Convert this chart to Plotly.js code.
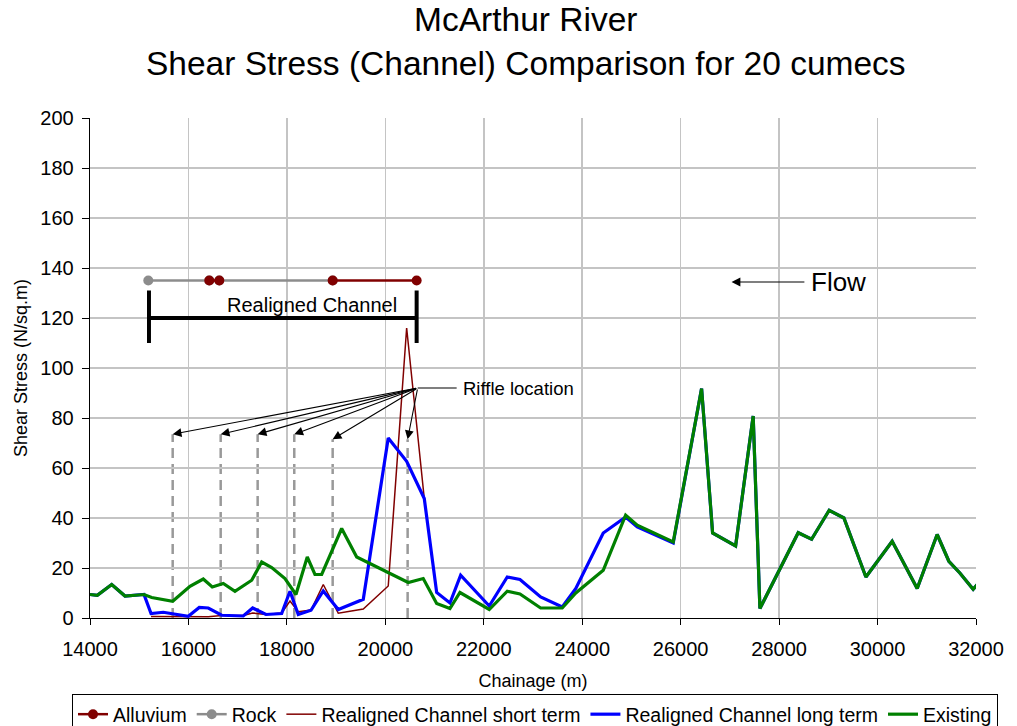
<!DOCTYPE html>
<html>
<head>
<meta charset="utf-8">
<script src="https://cdn.plot.ly/plotly-3.0.1.min.js"></script>
<style>html,body{margin:0;padding:0;background:#fff;}#chart{width:1017px;height:726px;}</style>
</head>
<body>
<div id="chart"></div>
<script>
// ---- Data ----
const existingX = [14000,14148,14441,14711,15097,15253,15680,16031,16301,16484,16708,16945,17285,17488,17691,17961,18184,18414,18570,18707,19113,19418,20466,20770,21043,21313,21516,22111,22477,22735,23155,23594,23870,24427,24882,25118,25849,26425,26649,27116,27473,27610,28388,28660,29017,29316,29763,30297,30805,31211,31449,31672,31942,32099];
const existingY = [9.4,9.1,13.4,8.8,9.4,8.2,6.7,12.7,15.6,12.4,13.8,10.7,15.1,22.4,20.2,15.8,9.4,24.4,17.4,17.4,35.8,24.4,14.2,15.8,5.8,3.8,10.2,3.4,10.7,9.6,4.0,4.0,10.0,19.1,41.1,37.1,30.4,91.8,34.0,28.8,80.8,3.8,34.1,31.5,43.1,40.0,16.4,30.7,11.8,33.4,22.7,18.0,11.5,15.1];

const longX = [14000,14148,14441,14711,15097,15240,15489,15761,15997,16220,16403,16675,17114,17305,17575,17894,18063,18231,18490,18739,19044,19552,20059,20433,20791,21043,21313,21530,22111,22477,22735,23155,23594,23870,24427,24882,25118,25849,26425,26649,27116,27473,27610,28388,28660,29017,29316,29763,30297,30805,31211,31449,31672,31942,32099];
const longY = [9.4,9.1,13.4,8.8,9.4,1.8,2.3,1.5,0.7,4.2,4.0,1.1,0.8,4.0,1.4,1.8,10.7,1.4,3.1,10.8,3.4,7.5,72.0,62.7,47.8,10.2,6.0,17.1,4.8,16.4,15.4,8.4,4.4,11.8,34.0,40.4,36.4,30.0,91.8,34.0,28.8,80.8,3.8,34.1,31.5,43.1,40.0,16.4,30.7,11.8,33.4,22.7,18.0,11.5,15.1];

const shortX = [15240,15489,15761,15997,16220,16403,16675,17114,17305,17575,17894,18063,18231,18490,18739,19044,19552,20059,20433,20791];
const shortY = [0.6,0.6,0.5,0.3,0.5,0.5,1.0,1.0,2.0,1.4,2.0,6.8,2.5,3.2,13.4,1.9,3.6,12.8,116.0,47.8];

const bedLevel = 135;
const rockX = [15184,16423,16627,18930];
const alluviumX = [16423,16627,null,18930,20636];

const riffleX = [15680,16655,17406,18150,18930,20453];
const riffleTop = [73.5,73.5,73.5,73.5,71.5,71.5];
const riffleLabel = {x: 20657, y: 92, lineEnd: 21449, text: 'Riffle location'};

const channelStart = 15198, channelEnd = 20636, channelLevel = 120, channelBarLow = 110, channelBarHigh = 131;
const channelLabel = {x: 18503, y: 125.3, text: 'Realigned Channel'};

const flowArrow = {head: 27034, tail: 28544, y: 134.4, textX: 29216, text: 'Flow'};

const xTicks = [14000,16000,18000,20000,22000,24000,26000,28000,30000,32000];
const yTicks = [0,20,40,60,80,100,120,140,160,180,200];

// ---- Plot ----
const FONT = 'Liberation Sans, Arial, sans-serif';
const traces = [
  {x: rockX, y: rockX.map(()=>bedLevel), name: 'Rock', mode: 'lines+markers', legendrank: 2,
   line: {color: '#8c8c8c', width: 2.5}, marker: {color: '#8c8c8c', size: 10}},
  {x: alluviumX, y: alluviumX.map(v => v === null ? null : bedLevel), name: 'Alluvium', mode: 'lines+markers', legendrank: 1,
   line: {color: '#800000', width: 2.5}, marker: {color: '#800000', size: 10}},
  {x: shortX, y: shortY, name: 'Realigned Channel short term', mode: 'lines', legendrank: 3,
   line: {color: '#800000', width: 1.5}},
  {x: longX, y: longY, name: 'Realigned Channel long term', mode: 'lines', legendrank: 4,
   line: {color: '#0000ff', width: 3.2}},
  {x: existingX, y: existingY, name: 'Existing', mode: 'lines', legendrank: 5,
   line: {color: '#008000', width: 3.2}}
];

const shapes = [];
riffleX.forEach((x, i) => {
  shapes.push({type: 'line', xref: 'x', yref: 'y', x0: x, x1: x, y0: 0, y1: riffleTop[i],
    line: {color: '#999999', width: 2.5, dash: '10px,6px'}, layer: 'below'});
});
shapes.push({type: 'line', xref: 'x', yref: 'y', x0: riffleLabel.x, x1: riffleLabel.lineEnd, y0: riffleLabel.y, y1: riffleLabel.y, line: {color: '#000', width: 1.2}});
shapes.push({type: 'line', xref: 'x', yref: 'y', x0: channelStart, x1: channelEnd, y0: channelLevel, y1: channelLevel, line: {color: '#000', width: 4}});
shapes.push({type: 'line', xref: 'x', yref: 'y', x0: channelStart, x1: channelStart, y0: channelBarLow, y1: channelBarHigh, line: {color: '#000', width: 4}});
shapes.push({type: 'line', xref: 'x', yref: 'y', x0: channelEnd, x1: channelEnd, y0: channelBarLow, y1: channelBarHigh, line: {color: '#000', width: 4}});

const annotations = [];
riffleX.forEach((x, i) => {
  annotations.push({x: x, y: riffleTop[i], xref: 'x', yref: 'y', ax: riffleLabel.x, ay: riffleLabel.y, axref: 'x', ayref: 'y',
    text: '', showarrow: true, arrowhead: 2, arrowsize: 1.6, arrowwidth: 1.1, arrowcolor: '#000'});
});
annotations.push({x: riffleLabel.lineEnd, y: riffleLabel.y, xref: 'x', yref: 'y', text: riffleLabel.text, showarrow: false,
  xanchor: 'left', xshift: 4, font: {family: FONT, size: 18.5, color: '#000'}});
annotations.push({x: channelLabel.x, y: channelLabel.y, xref: 'x', yref: 'y', text: channelLabel.text, showarrow: false,
  font: {family: FONT, size: 20, color: '#000'}});
annotations.push({x: flowArrow.head, y: flowArrow.y, xref: 'x', yref: 'y', ax: flowArrow.tail, ay: flowArrow.y, axref: 'x', ayref: 'y',
  text: '', showarrow: true, arrowhead: 2, arrowsize: 1.6, arrowwidth: 1.1, arrowcolor: '#000'});
annotations.push({x: flowArrow.textX, y: flowArrow.y, xref: 'x', yref: 'y', text: flowArrow.text, showarrow: false,
  font: {family: FONT, size: 26, color: '#000'}});

const layout = {
  width: 1017, height: 726,
  paper_bgcolor: '#fff', plot_bgcolor: '#fff',
  margin: {l: 90, r: 41, t: 118, b: 108, autoexpand: false},
  font: {family: FONT, color: '#000'},
  title: {text: 'McArthur River<br>Shear Stress (Channel) Comparison for 20 cumecs', font: {family: FONT, size: 33.5, color: '#000'},
    x: 0.517, xref: 'container', xanchor: 'center', y: 0.957, yref: 'container', yanchor: 'top'},
  xaxis: {range: [14000, 32000], tickvals: xTicks, ticktext: xTicks.map(String), showgrid: true, gridcolor: '#c4c4c4', gridwidth: 1.5,
    showline: true, linecolor: '#000', linewidth: 1.3, ticks: 'outside', ticklen: 6, tickcolor: '#000', zeroline: false,
    ticklabelstandoff: 7,
    tickfont: {family: FONT, size: 20, color: '#000'},
    title: {text: 'Chainage (m)', font: {family: FONT, size: 18, color: '#000'}, standoff: 15}},
  yaxis: {range: [0, 200], tickvals: yTicks, ticktext: yTicks.map(String), showgrid: true, gridcolor: '#c4c4c4', gridwidth: 1.5,
    showline: true, linecolor: '#000', linewidth: 1.3, ticks: 'outside', ticklen: 7, tickcolor: '#000', zeroline: false,
    ticklabelstandoff: 4,
    tickfont: {family: FONT, size: 20, color: '#000'},
    title: {text: 'Shear Stress (N/sq.m)', font: {family: FONT, size: 18, color: '#000'}, standoff: 8}},
  showlegend: true,
  legend: {orientation: 'h', x: -0.0203, xanchor: 'left', y: -0.152, yanchor: 'top', bgcolor: '#fff', bordercolor: '#000', borderwidth: 1,
    font: {family: FONT, size: 19.5, color: '#000'}, traceorder: 'normal'},
  shapes: shapes,
  annotations: annotations
};

Plotly.newPlot('chart', traces, layout, {displayModeBar: false, staticPlot: true});
</script>
</body>
</html>
